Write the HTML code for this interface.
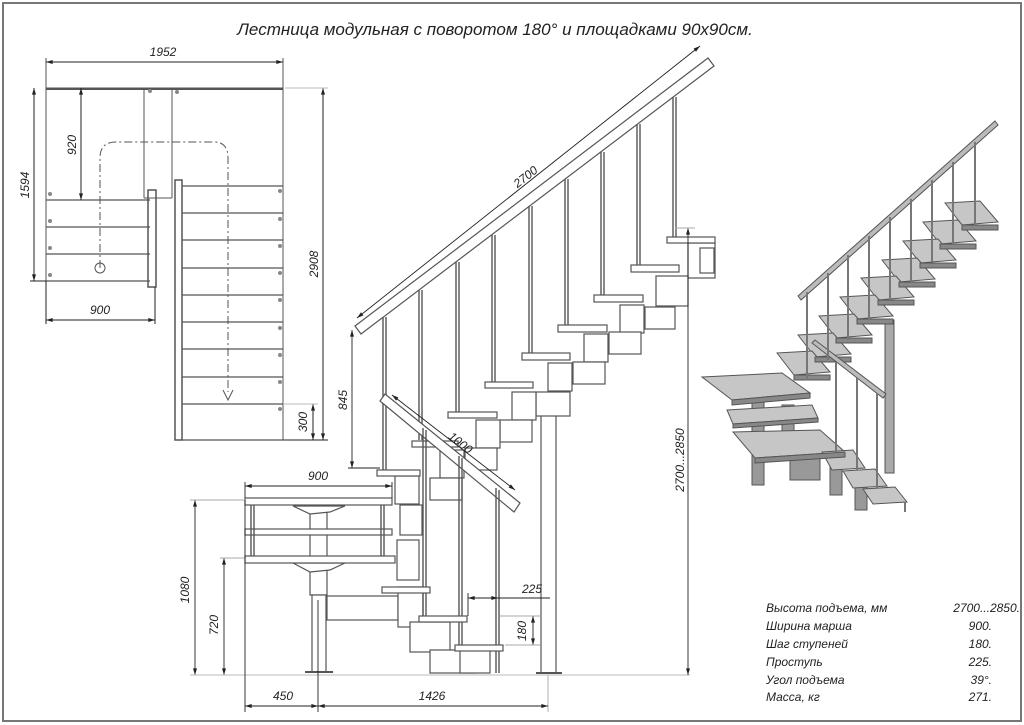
<!DOCTYPE html>
<html><head><meta charset="utf-8"><style>
html,body{margin:0;padding:0;background:#fff;}
svg{display:block;}
text{font-family:"Liberation Sans",sans-serif;font-style:italic;fill:#222;}
</style></head><body>
<svg width="1024" height="725" viewBox="0 0 1024 725" xmlns="http://www.w3.org/2000/svg">
<defs>
<marker id="a" viewBox="0 0 10 6" refX="10" refY="3" markerWidth="9" markerHeight="4" orient="auto-start-reverse" markerUnits="userSpaceOnUse"><path d="M0 0 L10 3 L0 6 Z" fill="#222"/></marker>
</defs>
<rect x="0" y="0" width="1024" height="725" fill="#fff"/>
<rect x="3" y="3" width="1018" height="718" fill="none" stroke="#777" stroke-width="2"/>
<text x="495" y="35" font-size="17" text-anchor="middle">Лестница модульная с поворотом 180° и площадками 90х90см.</text>

<!-- PLAN VIEW -->
<g stroke="#555" stroke-width="1" fill="none">
<line x1="46" y1="58" x2="46" y2="88"/><line x1="283" y1="58" x2="283" y2="88"/>
<line x1="46" y1="62" x2="283" y2="62" stroke="#222" marker-start="url(#a)" marker-end="url(#a)"/>
<rect x="46" y="88" width="237" height="1.5" fill="#555"/>
<line x1="46" y1="88" x2="46" y2="281"/>
<line x1="283" y1="88" x2="283" y2="440"/>
<line x1="144" y1="88" x2="144" y2="198"/><line x1="172" y1="88" x2="172" y2="198"/>
<line x1="144" y1="198" x2="172" y2="198"/>
<g stroke-width="1.3">
<line x1="46" y1="200" x2="150" y2="200"/><line x1="46" y1="227" x2="150" y2="227"/>
<line x1="46" y1="254" x2="150" y2="254"/><line x1="46" y1="281" x2="150" y2="281"/>
<line x1="182" y1="186" x2="283" y2="186"/><line x1="182" y1="213" x2="283" y2="213"/>
<line x1="182" y1="240" x2="283" y2="240"/><line x1="182" y1="268" x2="283" y2="268"/>
<line x1="182" y1="295" x2="283" y2="295"/><line x1="182" y1="322" x2="283" y2="322"/>
<line x1="182" y1="349" x2="283" y2="349"/><line x1="182" y1="377" x2="283" y2="377"/>
<line x1="182" y1="404" x2="283" y2="404"/><line x1="182" y1="440" x2="283" y2="440"/>
</g>
<rect x="148" y="190" width="8" height="97" stroke-width="1.5"/>
<rect x="175" y="180" width="7" height="260" stroke-width="1.5"/>
<path d="M100 268 V158 Q100 142 116 142 H214 Q228 142 228 158 V392" stroke-dasharray="8 3 2 3"/>
<circle cx="100" cy="268" r="5"/>
<path d="M223 390 L228 400 L233 390"/>
<g fill="#888" stroke="none">
<circle cx="50" cy="194" r="2"/><circle cx="50" cy="221" r="2"/><circle cx="50" cy="248" r="2"/><circle cx="50" cy="275" r="2"/>
<circle cx="150" cy="91" r="2"/><circle cx="177" cy="92" r="2"/>
<circle cx="280" cy="191" r="2"/><circle cx="280" cy="219" r="2"/><circle cx="280" cy="246" r="2"/><circle cx="280" cy="273" r="2"/><circle cx="280" cy="300" r="2"/><circle cx="280" cy="328" r="2"/><circle cx="280" cy="355" r="2"/><circle cx="280" cy="382" r="2"/><circle cx="280" cy="409" r="2"/>
</g>
<g stroke="#222">
<line x1="81" y1="88" x2="81" y2="200" marker-start="url(#a)" marker-end="url(#a)"/>
<line x1="34" y1="88" x2="34" y2="281" marker-start="url(#a)" marker-end="url(#a)"/><line x1="30" y1="281" x2="46" y2="281"/>
<line x1="46" y1="281" x2="46" y2="324"/><line x1="155" y1="287" x2="155" y2="324"/>
<line x1="46" y1="320" x2="155" y2="320" marker-start="url(#a)" marker-end="url(#a)"/>
<line x1="323" y1="88" x2="323" y2="440" marker-start="url(#a)" marker-end="url(#a)"/><line x1="285" y1="88" x2="328" y2="88" stroke="#bbb"/>
<line x1="283" y1="440" x2="328" y2="440"/>
<line x1="313" y1="404" x2="313" y2="440" marker-start="url(#a)" marker-end="url(#a)"/><line x1="283" y1="404" x2="318" y2="404" stroke="#bbb"/>
</g>
</g>
<text x="163" y="56" font-size="12" text-anchor="middle">1952</text>
<text x="100" y="314" font-size="12" text-anchor="middle">900</text>
<text font-size="12" transform="translate(76,145) rotate(-90)" text-anchor="middle">920</text>
<text font-size="12" transform="translate(29,185) rotate(-90)" text-anchor="middle">1594</text>
<text font-size="12" transform="translate(318,264) rotate(-90)" text-anchor="middle">2908</text>
<text font-size="12" transform="translate(307,422) rotate(-90)" text-anchor="middle">300</text>

<!-- SIDE VIEW -->
<g stroke="#555" stroke-width="1.2" fill="#fff">
<rect x="541" y="395" width="15" height="278"/>
<line x1="536" y1="673" x2="562" y2="673" stroke-width="2"/>
<polygon points="355,326 708,58 714,66 361,334" fill="#fff"/>
<g stroke-width="1.4" fill="none">
<line x1="383" y1="317" x2="383" y2="470"/><line x1="419" y1="290" x2="419" y2="440"/>
<line x1="456" y1="262" x2="456" y2="412"/><line x1="492" y1="235" x2="492" y2="382"/>
<line x1="529" y1="206" x2="529" y2="353"/><line x1="565" y1="179" x2="565" y2="325"/>
<line x1="601" y1="152" x2="601" y2="295"/><line x1="637" y1="124" x2="637" y2="265"/>
<line x1="673" y1="97" x2="673" y2="237"/>
<line x1="386" y1="317" x2="386" y2="470"/><line x1="422" y1="290" x2="422" y2="440"/>
<line x1="459" y1="262" x2="459" y2="412"/><line x1="495" y1="235" x2="495" y2="382"/>
<line x1="532" y1="206" x2="532" y2="353"/><line x1="568" y1="179" x2="568" y2="325"/>
<line x1="604" y1="152" x2="604" y2="295"/><line x1="640" y1="124" x2="640" y2="265"/>
<line x1="676" y1="97" x2="676" y2="237"/>
</g>
<g>
<rect x="688" y="243" width="27" height="35"/><rect x="700" y="248" width="14" height="25"/>
<rect x="656" y="276" width="32" height="30"/><rect x="645" y="307" width="30" height="22"/>
<rect x="620" y="305" width="24" height="28"/><rect x="609" y="332" width="32" height="22"/>
<rect x="584" y="334" width="24" height="28"/><rect x="573" y="362" width="32" height="22"/>
<rect x="548" y="363" width="24" height="28"/><rect x="536" y="392" width="34" height="24"/>
<rect x="512" y="392" width="24" height="28"/><rect x="500" y="420" width="32" height="22"/>
<rect x="476" y="420" width="24" height="28"/><rect x="465" y="448" width="32" height="22"/>
<rect x="440" y="450" width="24" height="28"/><rect x="430" y="478" width="32" height="22"/>
<rect x="395" y="476" width="24" height="28"/><rect x="400" y="505" width="22" height="30"/>
<rect x="397" y="540" width="22" height="40"/>
</g>
<g>
<rect x="667" y="237" width="48" height="6"/><rect x="631" y="265" width="48" height="7"/>
<rect x="594" y="295" width="49" height="7"/><rect x="558" y="325" width="49" height="7"/>
<rect x="522" y="353" width="48" height="7"/><rect x="485" y="382" width="48" height="6"/>
<rect x="448" y="412" width="49" height="6"/><rect x="412" y="441" width="46" height="6"/>
<rect x="377" y="470" width="43" height="6"/>
</g>
<rect x="310" y="505" width="17" height="90"/>
<rect x="312" y="595" width="14" height="77"/>
<line x1="305" y1="672" x2="333" y2="672" stroke-width="2"/>
<rect x="327" y="596" width="71" height="24"/>
<rect x="398" y="587" width="25" height="40"/><rect x="410" y="622" width="40" height="30"/>
<rect x="430" y="650" width="45" height="23"/><rect x="460" y="650" width="30" height="23"/>
<polygon points="293,506 345,506 330,512 310,514"/>
<polygon points="293,563 345,563 330,570 310,572"/>
<rect x="245" y="498" width="147" height="7"/>
<rect x="245" y="529" width="147" height="6"/>
<rect x="245" y="556" width="150" height="7"/>
<g fill="none" stroke-width="1.4">
<line x1="251" y1="505" x2="251" y2="556"/><line x1="254" y1="505" x2="254" y2="556"/>
<line x1="381" y1="505" x2="381" y2="556"/><line x1="384" y1="505" x2="384" y2="556"/>
</g>
<polygon points="380,401 385,394 520,503 514,512"/>
<g fill="none" stroke-width="1.4">
<line x1="423" y1="428" x2="423" y2="617"/><line x1="426" y1="430" x2="426" y2="617"/>
<line x1="459" y1="456" x2="459" y2="646"/><line x1="462" y1="458" x2="462" y2="646"/>
<line x1="496" y1="488" x2="496" y2="673"/><line x1="499" y1="490" x2="499" y2="673"/>
</g>
<rect x="382" y="587" width="48" height="6"/><rect x="419" y="616" width="48" height="6"/>
<rect x="455" y="645" width="48" height="6"/>
</g>
<g stroke="#222" stroke-width="0.9" fill="none">
<line x1="352" y1="330" x2="352" y2="468" marker-start="url(#a)" marker-end="url(#a)"/><line x1="348" y1="468" x2="380" y2="468"/>
<line x1="245" y1="486" x2="392" y2="486" marker-start="url(#a)" marker-end="url(#a)"/><line x1="245" y1="482" x2="245" y2="498"/><line x1="392" y1="482" x2="392" y2="498"/>
<line x1="195" y1="500" x2="195" y2="675" marker-start="url(#a)" marker-end="url(#a)"/><line x1="190" y1="500" x2="245" y2="500" stroke="#aaa"/>
<line x1="224" y1="558" x2="224" y2="675" marker-start="url(#a)" marker-end="url(#a)"/><line x1="220" y1="558" x2="245" y2="558" stroke="#aaa"/>
<line x1="190" y1="675" x2="690" y2="675" stroke="#bbb"/>
<line x1="245" y1="500" x2="245" y2="712"/><line x1="318" y1="600" x2="318" y2="712"/><line x1="548" y1="675" x2="548" y2="712" stroke="#aaa"/>
<line x1="245" y1="706" x2="318" y2="706" marker-start="url(#a)" marker-end="url(#a)"/>
<line x1="318" y1="706" x2="548" y2="706" marker-start="url(#a)" marker-end="url(#a)"/>
<line x1="468" y1="598" x2="498" y2="598" marker-start="url(#a)" marker-end="url(#a)"/><line x1="498" y1="598" x2="550" y2="598"/><line x1="468" y1="593" x2="468" y2="616"/>
<line x1="533" y1="616" x2="533" y2="645" marker-start="url(#a)" marker-end="url(#a)"/><line x1="500" y1="616" x2="540" y2="616" stroke="#aaa"/><line x1="505" y1="645" x2="540" y2="645" stroke="#aaa"/>
<line x1="688" y1="228" x2="688" y2="675" marker-start="url(#a)" marker-end="url(#a)"/><line x1="675" y1="228" x2="695" y2="228" stroke="#aaa"/>
<line x1="357" y1="318" x2="700" y2="46" marker-start="url(#a)" marker-end="url(#a)"/>
<line x1="392" y1="395" x2="515" y2="490" marker-start="url(#a)" marker-end="url(#a)"/>
</g>
<text x="318" y="480" font-size="12" text-anchor="middle">900</text>
<text x="283" y="700" font-size="12" text-anchor="middle">450</text>
<text x="432" y="700" font-size="12" text-anchor="middle">1426</text>
<text x="532" y="593" font-size="12" text-anchor="middle">225</text>
<text font-size="12" transform="translate(526,631) rotate(-90)" text-anchor="middle">180</text>
<text font-size="12" transform="translate(347,400) rotate(-90)" text-anchor="middle">845</text>
<text font-size="12" transform="translate(189,590) rotate(-90)" text-anchor="middle">1080</text>
<text font-size="12" transform="translate(218,625) rotate(-90)" text-anchor="middle">720</text>
<text font-size="12" transform="translate(684,460) rotate(-90)" text-anchor="middle">2700...2850</text>
<text font-size="12" transform="translate(528,180) rotate(-38)" text-anchor="middle">2700</text>
<text font-size="12" transform="translate(458,446) rotate(38)" text-anchor="middle">1000</text>

<!-- 3D VIEW -->
<g stroke="#555" stroke-width="1">
<rect x="885" y="320" width="9" height="153" fill="#aaa"/>
<g fill="#999">
<rect x="752" y="400" width="12" height="85"/><rect x="782" y="405" width="12" height="30"/>
<rect x="790" y="455" width="30" height="25"/><rect x="830" y="455" width="12" height="40"/>
<rect x="855" y="485" width="12" height="25"/>
</g>
<g fill="#c6c6c6">
<polygon points="945,203 980,201 998,222 962,225"/>
<polygon points="923,222 958,220 976,241 940,244"/>
<polygon points="903,241 938,239 956,260 920,263"/>
<polygon points="882,260 917,258 935,279 899,282"/>
<polygon points="861,278 896,276 914,297 878,300"/>
<polygon points="840,297 875,295 893,316 857,319"/>
<polygon points="819,316 854,314 872,335 836,338"/>
<polygon points="798,335 833,333 851,354 815,357"/>
<polygon points="777,353 812,351 830,372 794,375"/>
<polygon points="702,377 782,373 810,393 732,400"/>
<polygon points="727,410 812,405 818,418 733,424"/>
<polygon points="733,432 820,430 845,452 755,458"/>
<polygon points="822,452 853,450 865,468 832,470"/>
<polygon points="843,471 875,469 887,486 853,488"/>
<polygon points="863,489 895,487 907,502 873,504"/>
</g>
<g fill="#888">
<rect x="962" y="225" width="36" height="5"/><rect x="940" y="244" width="36" height="5"/>
<rect x="920" y="263" width="36" height="5"/><rect x="899" y="282" width="36" height="5"/>
<rect x="878" y="300" width="36" height="5"/><rect x="857" y="319" width="36" height="5"/>
<rect x="836" y="338" width="36" height="5"/><rect x="815" y="357" width="36" height="5"/>
<rect x="794" y="375" width="36" height="5"/>
<polygon points="732,400 810,393 810,398 732,405"/>
<polygon points="733,424 818,418 818,422 733,428"/>
<polygon points="755,458 845,452 845,457 755,463"/>
</g>
<polygon points="798,296 995,121 998,125 801,300" fill="#bbb"/>
<polygon points="812,343 815,340 886,394 883,398" fill="#bbb"/>
<g stroke="#777" stroke-width="2">
<line x1="807" y1="292" x2="807" y2="380"/><line x1="828" y1="273" x2="828" y2="360"/>
<line x1="848" y1="255" x2="848" y2="340"/><line x1="869" y1="236" x2="869" y2="320"/>
<line x1="890" y1="217" x2="890" y2="300"/><line x1="911" y1="199" x2="911" y2="282"/>
<line x1="932" y1="180" x2="932" y2="262"/><line x1="953" y1="162" x2="953" y2="244"/>
<line x1="975" y1="142" x2="975" y2="225"/>
<line x1="836" y1="362" x2="836" y2="452"/><line x1="857" y1="378" x2="857" y2="470"/>
<line x1="877" y1="393" x2="877" y2="488"/>
<line x1="905" y1="502" x2="905" y2="512"/>
</g>
</g>

<!-- TABLE -->
<g font-size="12">
<text x="766" y="612">Высота подъема, мм</text><text x="1020" y="612" text-anchor="end">2700...2850.</text>
<text x="766" y="630">Ширина марша</text><text x="992" y="630" text-anchor="end">900.</text>
<text x="766" y="648">Шаг ступеней</text><text x="992" y="648" text-anchor="end">180.</text>
<text x="766" y="666">Проступь</text><text x="992" y="666" text-anchor="end">225.</text>
<text x="766" y="684">Угол подъема</text><text x="992" y="684" text-anchor="end">39°.</text>
<text x="766" y="701">Масса, кг</text><text x="992" y="701" text-anchor="end">271.</text>
</g>
</svg>
</body></html>
